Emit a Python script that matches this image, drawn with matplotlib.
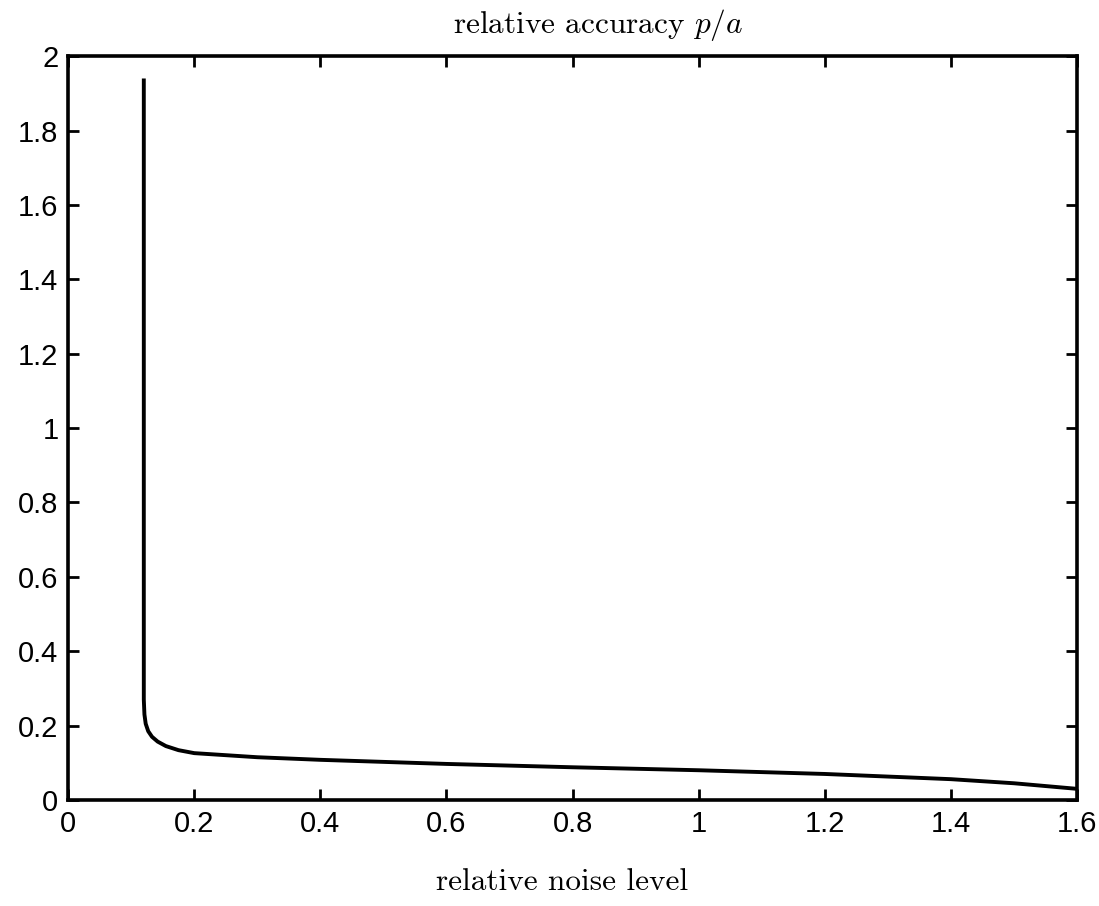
import matplotlib
matplotlib.use("Agg")
import matplotlib.pyplot as plt
from matplotlib.ticker import FuncFormatter

plt.rcParams["mathtext.fontset"] = "cm"
plt.rcParams["axes.unicode_minus"] = False

# relative noise level vs relative accuracy p/a
noise = [0.12, 0.12, 0.121, 0.123, 0.127, 0.133, 0.142, 0.155, 0.175, 0.2,
         0.3, 0.4, 0.6, 0.8, 1.0, 1.2, 1.4, 1.5, 1.6]
accuracy = [1.94, 0.27, 0.23, 0.205, 0.185, 0.17, 0.157, 0.145, 0.134, 0.126,
            0.115, 0.108, 0.097, 0.088, 0.08, 0.07, 0.056, 0.045, 0.03]

x_ticks = [0, 0.2, 0.4, 0.6, 0.8, 1.0, 1.2, 1.4, 1.6]
y_ticks = [0, 0.2, 0.4, 0.6, 0.8, 1.0, 1.2, 1.4, 1.6, 1.8, 2.0]

fig = plt.figure(figsize=(10.99, 9.06), dpi=100)
ax = fig.add_axes([0.062, 0.117, 0.918, 0.821])

ax.plot(noise, accuracy, color="black", linewidth=2.8,
        solid_joinstyle="round", solid_capstyle="butt")

ax.set_xlim(0, 1.6)
ax.set_ylim(0, 2)
ax.set_xticks(x_ticks)
ax.set_yticks(y_ticks)
fmt = FuncFormatter(lambda v, pos: f"{v:g}")
ax.xaxis.set_major_formatter(fmt)
ax.yaxis.set_major_formatter(fmt)

ax.tick_params(direction="in", length=8, width=2, top=True, right=True,
               labelsize=21, pad=7)
for lab in ax.get_xticklabels() + ax.get_yticklabels():
    lab.set_family("Liberation Sans")
for sp in ax.spines.values():
    sp.set_linewidth(2.6)

ax.set_title(r"relative accuracy $p/a$", family="cmr10",
             fontsize=22.5, pad=17, x=0.525)
ax.set_xlabel("relative noise level", family="cmr10",
              fontsize=22.5, labelpad=22, x=0.49)

fig.savefig("out.png", dpi=100, facecolor="white")
